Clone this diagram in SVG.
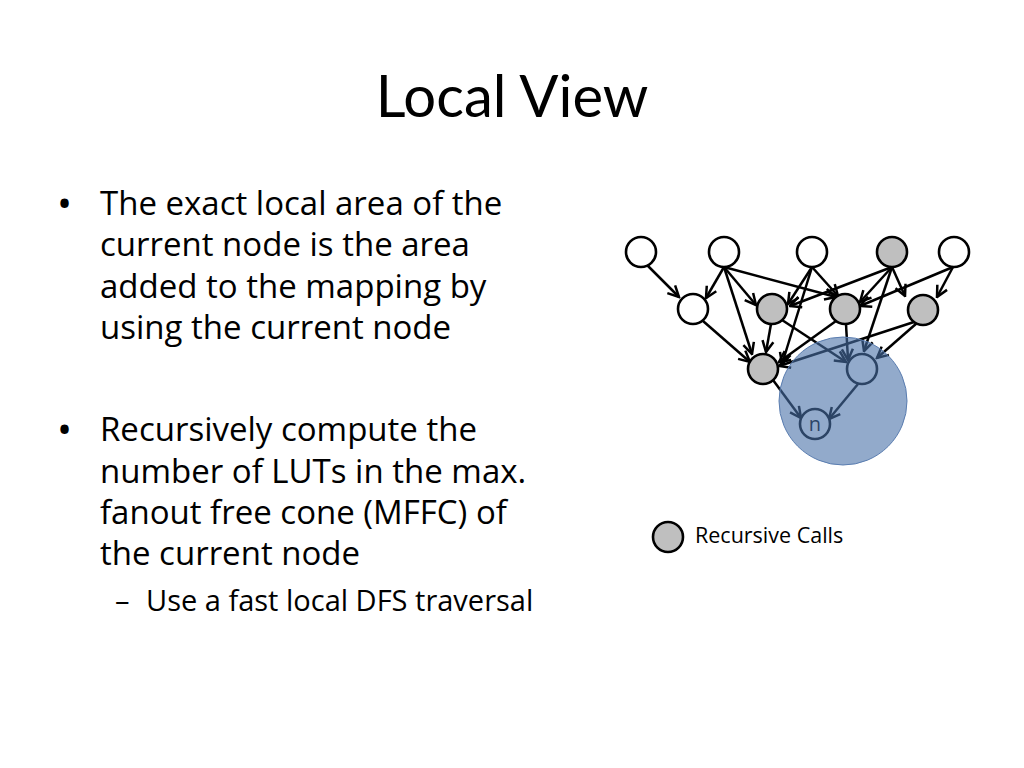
<svg xmlns="http://www.w3.org/2000/svg" width="1024" height="768" viewBox="0 0 1024 768">
<style>
.t{font-family:"Open Sans","Liberation Sans",sans-serif;fill:#000}
.title{font-family:Lato,"Liberation Sans",sans-serif;font-size:58px;text-anchor:middle}
.body{font-size:33px}
.sub{font-size:29px}
.leg{font-size:21.5px}
.bul{font-size:40px}
.nd{stroke:#000;stroke-width:2.6}
.w{fill:#fff}
.g{fill:#bfbfbf}
.e{stroke:#000;stroke-width:2.5;fill:none;marker-end:url(#ah)}
</style>
<defs>
<marker id="ah" viewBox="0 0 14 14" refX="12.5" refY="7" markerWidth="14" markerHeight="14" markerUnits="userSpaceOnUse" orient="auto">
<path d="M1.5,1.5 L12.5,7 L1.5,12.5" fill="none" stroke="#000" stroke-width="2.5"/>
</marker>
</defs>
<rect width="1024" height="768" fill="#fff"/>
<text class="t title" x="512" y="117">Local View</text>
<g id="bullets">
<text class="t bul" x="57" y="218">•</text>
<text class="t body" x="100" y="215">The exact local area of the</text>
<text class="t body" x="100" y="256">current node is the area</text>
<text class="t body" x="100" y="298">added to the mapping by</text>
<text class="t body" x="100" y="339">using the current node</text>
<text class="t bul" x="57" y="444">•</text>
<text class="t body" x="100" y="441">Recursively compute the</text>
<text class="t body" x="100" y="483">number of LUTs in the max.</text>
<text class="t body" x="100" y="524">fanout free cone (MFFC) of</text>
<text class="t body" x="100" y="565">the current node</text>
<text class="t sub" x="115" y="611">–</text>
<text class="t sub" x="146" y="611">Use a fast local DFS traversal</text>
</g>
<g id="connectors">
<line class="e" x1="647" y1="265" x2="679" y2="297"/>
<line class="e" x1="724" y1="267" x2="706" y2="298"/>
<line class="e" x1="724" y1="267" x2="756" y2="305"/>
<line class="e" x1="724" y1="267" x2="836" y2="297"/>
<line class="e" x1="724" y1="267" x2="752" y2="354"/>
<line class="e" x1="812" y1="267" x2="788" y2="304"/>
<line class="e" x1="812" y1="267" x2="782" y2="364"/>
<line class="e" x1="812" y1="267" x2="838" y2="296"/>
<line class="e" x1="892" y1="267" x2="790" y2="306"/>
<line class="e" x1="892" y1="267" x2="860" y2="302"/>
<line class="e" x1="892" y1="267" x2="864" y2="351"/>
<line class="e" x1="892" y1="267" x2="905" y2="296"/>
<line class="e" x1="953" y1="267" x2="860" y2="306"/>
<line class="e" x1="953" y1="267" x2="937" y2="297"/>
<line class="e" x1="703" y1="321" x2="750" y2="362"/>
<line class="e" x1="771" y1="324" x2="766" y2="352"/>
<line class="e" x1="782" y1="320" x2="846" y2="362"/>
<line class="e" x1="836" y1="321" x2="779" y2="362"/>
<line class="e" x1="846" y1="324" x2="848" y2="360"/>
<line class="e" x1="914" y1="322" x2="779" y2="366"/>
<line class="e" x1="917" y1="323" x2="877" y2="358"/>
<line class="e" x1="773" y1="380" x2="801" y2="418"/>
<line class="e" x1="858" y1="384" x2="829" y2="419"/>
</g>
<g id="A1"><circle class="nd w" cx="641" cy="252" r="15"/></g>
<g id="A2"><circle class="nd w" cx="724" cy="252" r="15"/></g>
<g id="A3"><circle class="nd w" cx="812" cy="252" r="15"/></g>
<g id="A4"><circle class="nd g" cx="892" cy="252" r="15"/></g>
<g id="A5"><circle class="nd w" cx="954" cy="252" r="15"/></g>
<g id="B1"><circle class="nd w" cx="693" cy="309" r="15"/></g>
<g id="B2"><circle class="nd g" cx="772" cy="309" r="15"/></g>
<g id="B3"><circle class="nd g" cx="845" cy="309" r="15"/></g>
<g id="B4"><circle class="nd g" cx="923" cy="310" r="15"/></g>
<g id="C1"><circle class="nd g" cx="763" cy="369" r="15"/></g>
<g id="C2"><circle class="nd w" cx="862" cy="369" r="15"/></g>
<g id="N"><circle class="nd w" cx="815" cy="424" r="15"/><text class="t" x="815" y="431" font-size="20" text-anchor="middle">n</text></g>
<g id="mffc"><circle cx="843" cy="401" r="64" fill="#4a72a8" fill-opacity="0.6" stroke="#5a7db0" stroke-width="1"/></g>
<g id="legend">
<circle class="nd g" cx="668" cy="537" r="15"/>
<text class="t leg" x="695" y="543">Recursive Calls</text>
</g>
</svg>
